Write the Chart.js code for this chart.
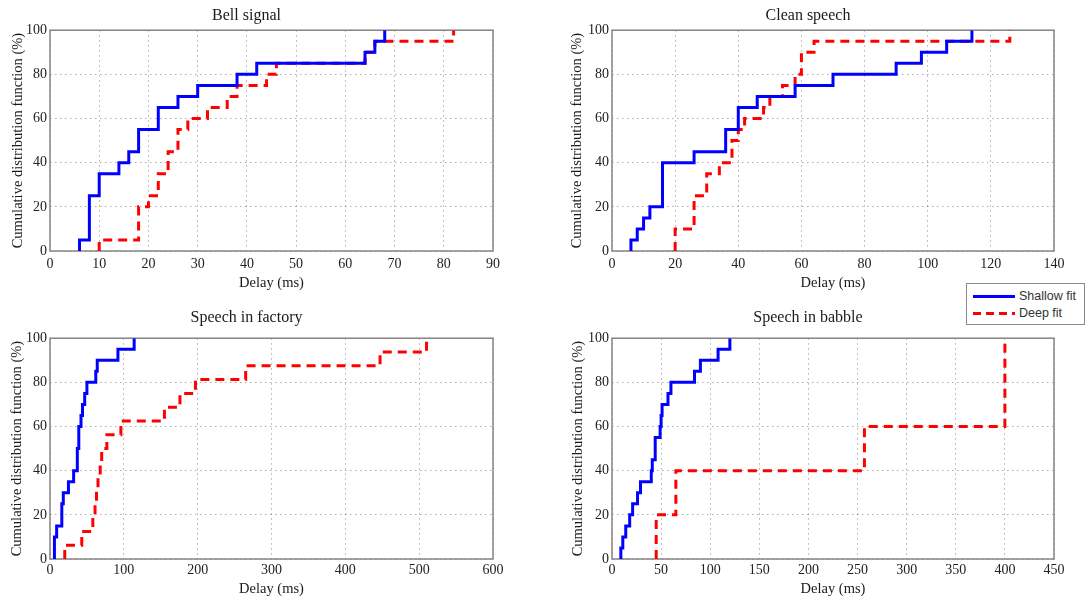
<!DOCTYPE html>
<html>
<head>
<meta charset="utf-8">
<title>Delay CDF</title>
<script src="https://cdn.jsdelivr.net/npm/chart.js@4.4.1/dist/chart.umd.min.js"></script>
<style>
    body { margin: 0; background: #fff; }
    #wrap { position: relative; width: 1091px; height: 600px; overflow: hidden; background: #fff; }
    .panel { position: absolute; }
    #legend {
        position: absolute; left: 966px; top: 283px; width: 117px; height: 40px;
        border: 1px solid #8a8a8a; background: #fff;
        font-family: "Liberation Sans", Arial, sans-serif; font-size: 12.5px; color: #333;
    }
    .row { position: absolute; left: 6px; height: 16px; line-height: 16px; }
    .row span { position: absolute; left: 46px; top: 0; white-space: nowrap; }
    .sample { position: absolute; left: 0; top: 7px; width: 42px; height: 3px; }
    .solid { background: #0000ff; }
    .dashed { background: repeating-linear-gradient(to right, #ff0000 0 8px, transparent 8px 13px); }
</style>
</head>
<body>
<div id="wrap">
    <div class="panel" style="left:0px;top:0px"><canvas id="bellChart" width="510" height="300"></canvas></div>
    <div class="panel" style="left:562px;top:0px"><canvas id="cleanChart" width="509" height="300"></canvas></div>
    <div class="panel" style="left:0px;top:300px"><canvas id="factoryChart" width="510" height="300"></canvas></div>
    <div class="panel" style="left:562px;top:300px"><canvas id="babbleChart" width="509" height="300"></canvas></div>
    <div id="legend">
        <div class="row" style="top:4px"><div class="sample solid"></div><span>Shallow fit</span></div>
        <div class="row" style="top:21px"><div class="sample dashed"></div><span>Deep fit</span></div>
    </div>
</div>

<script>
// Bell signal
const bellDelayShallow = [6, 6, 8, 10, 14, 16, 18, 22, 26, 30, 38, 42, 64, 66, 68];
const bellCdfShallow   = [0, 5, 25, 35, 40, 45, 55, 65, 70, 75, 80, 85, 90, 95, 100];
const bellDelayDeep    = [10, 10, 18, 20, 22, 24, 26, 28, 32, 36, 38, 44, 46, 64, 66, 82];
const bellCdfDeep      = [0, 5, 20, 25, 35, 45, 55, 60, 65, 70, 75, 80, 85, 90, 95, 100];

// Clean speech
const cleanDelayShallow = [6, 6, 8, 10, 12, 16, 26, 36, 40, 46, 58, 70, 90, 98, 106, 114];
const cleanCdfShallow   = [0, 5, 10, 15, 20, 40, 45, 55, 65, 70, 75, 80, 85, 90, 95, 100];
const cleanDelayDeep    = [20, 20, 26, 30, 34, 38, 40, 42, 48, 50, 54, 58, 60, 64, 126];
const cleanCdfDeep      = [0, 10, 25, 35, 40, 50, 55, 60, 65, 70, 75, 80, 90, 95, 100];

// Speech in factory
const factoryDelayShallow = [6, 6, 9, 16, 18, 25, 32, 37, 39, 42, 44, 47, 50, 62, 64, 92, 114];
const factoryCdfShallow   = [0, 10, 15, 25, 30, 35, 40, 50, 60, 65, 70, 75, 80, 85, 90, 95, 100];
const factoryDelayDeep    = [20, 20, 43, 58, 61, 63, 65, 68, 70, 77, 96, 155, 176, 197, 265, 447, 510];
const factoryCdfDeep      = [0, 6.25, 12.5, 18.75, 25, 31.25, 37.5, 43.75, 50, 56.25, 62.5, 68.75, 75, 81.25, 87.5, 93.75, 100];

// Speech in babble
const babbleDelayShallow = [9, 9, 11, 14, 18, 21, 26, 29, 40, 41, 44, 49, 50, 51, 57, 60, 84, 90, 108, 120];
const babbleCdfShallow   = [0, 5, 10, 15, 20, 25, 30, 35, 40, 45, 55, 60, 65, 70, 75, 80, 85, 90, 95, 100];
const babbleDelayDeep    = [45, 45, 65, 257, 400];
const babbleCdfDeep      = [0, 20, 40, 60, 100];

const yTicks = [0, 20, 40, 60, 80, 100];

const SERIF = '"Liberation Serif", "Times New Roman", serif';

// ramka wokol obszaru wykresu
const framePlugin = {
    id: "frame",
    beforeDatasetsDraw(chart) {
        const { ctx, chartArea: a } = chart;
        ctx.save();
        ctx.strokeStyle = "#858585";
        ctx.lineWidth = 1.5;
        ctx.strokeRect(a.left, a.top, a.right - a.left, a.bottom - a.top);
        ctx.restore();
    }
};

function toPoints(xs, ys) {
    return xs.map((x, i) => ({ x: x, y: ys[i] }));
}

function createCdfChart(id, title, xMax, xStep, shallow, deep, opt) {
    const ctx = document.getElementById(id);
    if (!ctx) return console.error(`Brak elementu #${id}`);

    new Chart(ctx, {
        type: "line",
        data: {
            datasets: [
                {
                    label: "Shallow fit",
                    data: toPoints(shallow[0], shallow[1]),
                    borderColor: "#0000ff",
                    borderWidth: 3,
                    stepped: true,
                    pointRadius: 0,
                    borderJoinStyle: "miter",
                    fill: false
                },
                {
                    label: "Deep fit",
                    data: toPoints(deep[0], deep[1]),
                    borderColor: "#ff0000",
                    borderWidth: 3,
                    borderDash: [9, 6],
                    stepped: true,
                    pointRadius: 0,
                    borderJoinStyle: "miter",
                    fill: false
                }
            ]
        },
        options: {
            responsive: false,
            animation: false,
            layout: { padding: { left: 0, right: opt.padRight, top: 0, bottom: 0 } },
            plugins: {
                legend: { display: false },
                tooltip: { enabled: false },
                title: {
                    display: true,
                    text: title,
                    color: "#1a1a1a",
                    font: { family: SERIF, size: 16, weight: "normal" },
                    padding: { top: opt.titleTop, bottom: opt.titleBottom }
                }
            },
            scales: {
                x: {
                    type: "linear",
                    min: 0,
                    max: xMax,
                    afterFit: s => { s.height = opt.xHeight; },
                    ticks: {
                        stepSize: xStep,
                        color: "#222",
                        padding: opt.xTickPad,
                        maxRotation: 0,
                        font: { family: SERIF, size: 14 }
                    },
                    grid: { color: "rgba(0,0,0,0.32)", lineWidth: 1, drawTicks: false },
                    border: { display: false, dash: [1.5, 3.5] },
                    title: {
                        display: true,
                        text: "Delay (ms)",
                        color: "#1a1a1a",
                        font: { family: SERIF, size: 14.5 },
                        padding: { top: 0, bottom: opt.xTitleBottom }
                    }
                },
                y: {
                    type: "linear",
                    min: 0,
                    max: 100,
                    afterFit: s => { s.width = 50; },
                    afterBuildTicks: s => { s.ticks = yTicks.map(v => ({ value: v })); },
                    ticks: {
                        color: "#222",
                        padding: 3,
                        font: { family: SERIF, size: 14 }
                    },
                    grid: { color: "rgba(0,0,0,0.32)", lineWidth: 1, drawTicks: false },
                    border: { display: false, dash: [1.5, 3.5] },
                    title: {
                        display: true,
                        text: "Cumulative distribution function (%)",
                        color: "#1a1a1a",
                        font: { family: SERIF, size: 14.5 },
                        padding: { top: opt.yTitleTop, bottom: 0 }
                    }
                }
            }
        },
        plugins: [framePlugin]
    });
}

const topOpt = { padRight: 17, titleTop: 6, titleBottom: 5, xHeight: 49, xTickPad: 5, xTitleBottom: 8 };
const bottomOpt = { padRight: 17, titleTop: 8, titleBottom: 11, xHeight: 41, xTickPad: 3, xTitleBottom: 2 };

createCdfChart("bellChart", "Bell signal", 90, 10,
    [bellDelayShallow, bellCdfShallow], [bellDelayDeep, bellCdfDeep],
    Object.assign({ yTitleTop: 9 }, topOpt));
createCdfChart("cleanChart", "Clean speech", 140, 20,
    [cleanDelayShallow, cleanCdfShallow], [cleanDelayDeep, cleanCdfDeep],
    Object.assign({ yTitleTop: 6 }, topOpt));
createCdfChart("factoryChart", "Speech in factory", 600, 100,
    [factoryDelayShallow, factoryCdfShallow], [factoryDelayDeep, factoryCdfDeep],
    Object.assign({ yTitleTop: 8 }, bottomOpt));
createCdfChart("babbleChart", "Speech in babble", 450, 50,
    [babbleDelayShallow, babbleCdfShallow], [babbleDelayDeep, babbleCdfDeep],
    Object.assign({ yTitleTop: 7 }, bottomOpt));
</script>
</body>
</html>
